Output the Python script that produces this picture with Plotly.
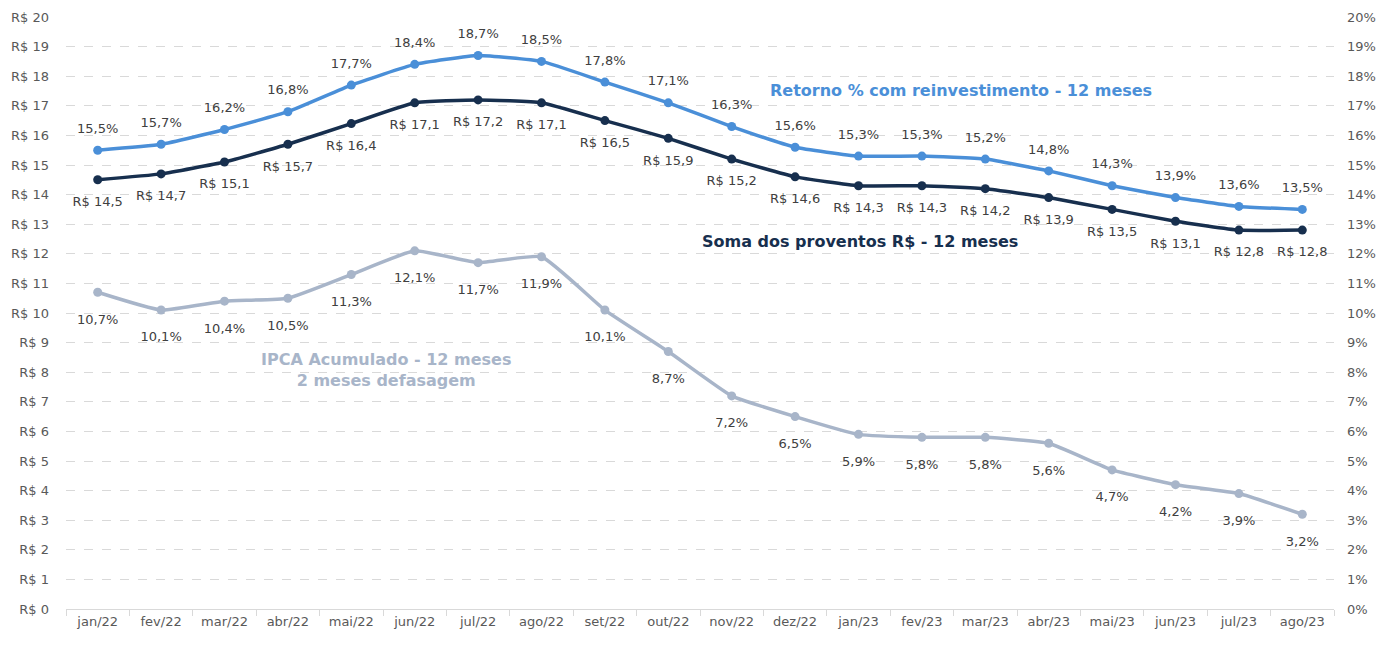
import plotly.graph_objects as go

months = ["jan/22", "fev/22", "mar/22", "abr/22", "mai/22", "jun/22", "jul/22", "ago/22",
          "set/22", "out/22", "nov/22", "dez/22", "jan/23", "fev/23", "mar/23", "abr/23",
          "mai/23", "jun/23", "jul/23", "ago/23"]
retorno_pct = [15.5, 15.7, 16.2, 16.8, 17.7, 18.4, 18.7, 18.5, 17.8, 17.1, 16.3, 15.6,
               15.3, 15.3, 15.2, 14.8, 14.3, 13.9, 13.6, 13.5]
soma_rs = [14.5, 14.7, 15.1, 15.7, 16.4, 17.1, 17.2, 17.1, 16.5, 15.9, 15.2, 14.6,
           14.3, 14.3, 14.2, 13.9, 13.5, 13.1, 12.8, 12.8]
ipca_pct = [10.7, 10.1, 10.4, 10.5, 11.3, 12.1, 11.7, 11.9, 10.1, 8.7, 7.2, 6.5,
            5.9, 5.8, 5.8, 5.6, 4.7, 4.2, 3.9, 3.2]
left_ticks = list(range(0, 21))
right_ticks = list(range(0, 21))


def br(v):
    return f"{v:.1f}".replace(".", ",")


FONT = "DejaVu Sans"
C_RET = "#4A8FD8"
C_SOMA = "#172F4E"
C_IPCA = "#A8B5C9"
LBL = dict(family=FONT, size=13, color="#404040")
CLEAR = "rgba(0,0,0,0)"

fig = go.Figure()


def add_series(values, axis, color, labels, pos, gap):
    fig.add_trace(go.Scatter(
        x=months, y=values, yaxis=axis, mode="lines+markers",
        line=dict(color=color, width=3.5, shape="spline", smoothing=0.4),
        marker=dict(size=9, color=color), showlegend=False, hoverinfo="skip"))
    fig.add_trace(go.Scatter(
        x=months, y=values, yaxis=axis, mode="markers+text",
        marker=dict(size=gap, color=CLEAR),
        text=labels, textposition=pos, textfont=LBL, cliponaxis=False,
        showlegend=False, hoverinfo="skip"))


add_series(retorno_pct, "y2", C_RET, [br(v) + "%" for v in retorno_pct], "top center", 21)
add_series(soma_rs, "y", C_SOMA, ["R$ " + br(v) for v in soma_rs], "bottom center", 25)
add_series(ipca_pct, "y2", C_IPCA, [br(v) + "%" for v in ipca_pct], "bottom center", 33)

tickfont = dict(family=FONT, size=13, color="#595959")
fig.update_layout(
    width=1387, height=639,
    margin=dict(l=58, r=61, t=9, b=38),
    paper_bgcolor="white", plot_bgcolor="white",
    font=dict(family=FONT),
    xaxis=dict(type="category", range=[-0.5, len(months) - 0.5], showgrid=False,
               showline=True, linecolor="#D9D9D9",
               linewidth=1, ticks="outside", tickson="boundaries", ticklen=6,
               tickcolor="#D9D9D9", tickfont=tickfont, automargin=False),
    yaxis=dict(range=[0, 20], tickvals=left_ticks,
               ticktext=["R$ " + str(v) for v in left_ticks],
               showgrid=True, gridcolor="#D9D9D9", griddash="dash", gridwidth=1,
               zeroline=False, showline=False, tickfont=tickfont, ticklabelstandoff=16,
               automargin=False),
    yaxis2=dict(range=[0, 20], tickvals=right_ticks,
                ticktext=[str(v) + "%" for v in right_ticks],
                overlaying="y", side="right", showgrid=False, zeroline=False,
                showline=False, tickfont=tickfont, ticklabelstandoff=12,
                automargin=False),
    annotations=[
        dict(x=13.62, y=17.53, xref="x", yref="y", text="<b>Retorno % com reinvestimento - 12 meses</b>",
             showarrow=False, font=dict(family=FONT, size=16, color=C_RET)),
        dict(x=12.02, y=12.43, xref="x", yref="y", text="<b>Soma dos proventos R$ - 12 meses</b>",
             showarrow=False, font=dict(family=FONT, size=16, color=C_SOMA)),
        dict(x=4.55, y=8.07, xref="x", yref="y",
             text="<b>IPCA Acumulado - 12 meses<br>2 meses defasagem</b>",
             showarrow=False, font=dict(family=FONT, size=16, color=C_IPCA)),
    ],
)

fig.write_html("out.html")
